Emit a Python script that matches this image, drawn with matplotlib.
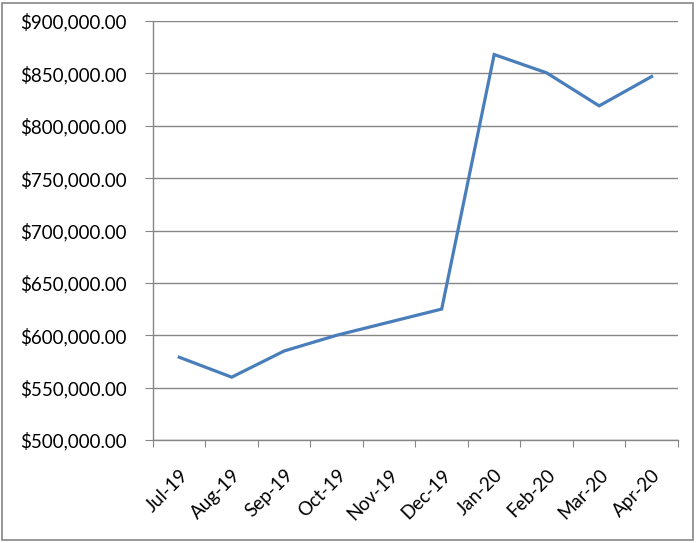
import matplotlib.pyplot as plt
from matplotlib.ticker import FuncFormatter
from matplotlib.patches import Rectangle

months = ["Jul-19", "Aug-19", "Sep-19", "Oct-19", "Nov-19",
          "Dec-19", "Jan-20", "Feb-20", "Mar-20", "Apr-20"]
values = [579000, 560000, 585000, 600000, 612500,
          625000, 868000, 850500, 819000, 847000]

plt.rcParams['font.family'] = ['Lato', 'DejaVu Sans']

fig = plt.figure(figsize=(6.96, 5.43), dpi=100)
ax = fig.add_axes([0.2198, 0.1897, 0.7542, 0.7716])

x = [i + 0.5 for i in range(len(months))]
ax.plot(x, values, color='#4A7EBB', linewidth=2.3, solid_joinstyle='miter')

ax.set_xlim(0, len(months))
ax.set_ylim(500000, 900000)
ax.set_yticks(range(500000, 900001, 50000))
ax.yaxis.set_major_formatter(FuncFormatter(lambda v, p: f"${v:,.2f}"))

ax.set_xticks(range(len(months) + 1))
ax.set_xticklabels([])
ax.set_xticks(x, minor=True)
ax.set_xticklabels(months, minor=True, rotation=45, ha='right',
                   rotation_mode='anchor')

ax.grid(axis='y', color='#868686', linewidth=1)
ax.set_axisbelow(True)
for s in ['top', 'right']:
    ax.spines[s].set_visible(False)
for s in ['left', 'bottom']:
    ax.spines[s].set_color('#868686')
    ax.spines[s].set_linewidth(1)

ax.tick_params(axis='y', which='major', length=6, color='#868686',
               labelsize=13.5, pad=13)
ax.tick_params(axis='x', which='major', length=5, color='#868686')
ax.tick_params(axis='x', which='minor', length=0, labelsize=13.5, pad=19)

# outer chart border
fig.patches.append(Rectangle((0.003, 0.005), 0.993, 0.99, transform=fig.transFigure,
                             fill=False, edgecolor='#868686', linewidth=1.2))

fig.savefig('out.png', dpi=100)
